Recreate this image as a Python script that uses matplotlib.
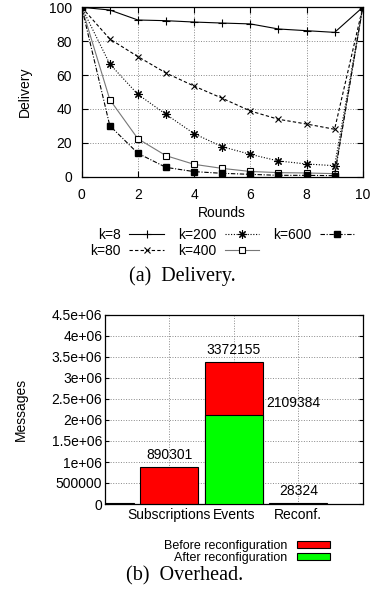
# Delivery over rounds and message overhead, two stacked panels
import numpy as np
import matplotlib
matplotlib.use('Agg')
import matplotlib.pyplot as plt
from matplotlib.patches import Patch

plt.rcParams['font.family'] = ['Liberation Sans', 'DejaVu Sans']

# %% data - delivery
rounds = [0, 1, 2, 3, 4, 5, 6, 7, 8, 9, 10]
k8 = [100, 98.4, 92.5, 92.1, 91.3, 90.7, 90.2, 87.2, 86.2, 85.2, 100]
k80 = [100, 81.3, 70.9, 61.2, 53.5, 46.3, 38.8, 33.9, 31.1, 28.0, 100]
k200 = [100, 66.5, 48.6, 36.8, 25.4, 17.7, 13.2, 9.3, 7.5, 6.5, 100]
k400 = [100, 45.5, 22.4, 12.4, 7.3, 4.9, 3.1, 2.4, 2.2, 1.8, 100]
k600 = [100, 30.1, 13.8, 5.5, 3.0, 2.0, 1.4, 0.8, 0.8, 0.6, 100]

# %% data - overhead
categories = ['', 'Subscriptions', 'Events', 'Reconf.']
before = [15000, 890301, 3372155, 28324]
after = [0, 0, 2109384, 0]
bar_labels = ['890301', '3372155', '2109384', '28324']
label_pos = [1, 2, 2.93, 3]
label_val = [890301, 3372155, 2109384, 28324]

W, H = 377, 599
fig = plt.figure(figsize=(W / 100, H / 100), dpi=100)
fs = 10

# %% top panel
ax = fig.add_axes([81.7 / W, 1 - 176.7 / H, 281 / W, 169.4 / H])
ax.plot(rounds, k8, color='black', lw=0.8, ls='-', marker='+', ms=6, mew=0.8, label='k=8')
ax.plot(rounds, k80, color='black', lw=0.8, ls=(0, (3, 2)), marker='x', ms=5, mew=0.8, label='k=80')
ax.plot(rounds, k200, color='black', lw=0.8, ls=(0, (1, 1.5)), marker=(8, 2, 0), ms=6, mew=0.8, label='k=200')
ax.plot(rounds, k400, color='#777777', lw=0.8, ls='-', marker='s', ms=5, mew=0.8,
        mfc='white', mec='black', label='k=400')
ax.plot(rounds, k600, color='black', lw=0.8, ls=(0, (4, 1.5, 1, 1.5)), marker='s', ms=5,
        mfc='black', mec='black', label='k=600')
ax.set_xlim(0, 10)
ax.set_ylim(0, 100)
ax.set_xticks(range(0, 11, 2))
ax.set_yticks(range(0, 101, 20))
ax.grid(True, color='#888888', ls=':', lw=0.7)
ax.tick_params(direction='in', length=4, width=0.8, labelsize=fs, top=True, right=True, pad=8)
ax.tick_params(axis='y', pad=7)
ax.set_xlabel('Rounds', fontsize=fs)
ax.set_ylabel('Delivery', fontsize=fs)
ax.xaxis.set_label_coords(0.5, -0.175)
ax.yaxis.set_label_coords(-0.177, 0.5)
for s in ax.spines.values():
    s.set_linewidth(0.9)

fig.legend(*ax.get_legend_handles_labels(), loc='center', ncol=3, frameon=False,
           bbox_to_anchor=(222.5 / W, 1 - 243 / H), markerfirst=False, fontsize=fs,
           handlelength=2.5, handletextpad=0.6, columnspacing=1.0, labelspacing=0.15,
           borderpad=0)

fig.text(182 / W, 1 - 276 / H, '(a)  Delivery.', ha='center', va='center',
         family='Liberation Serif', fontsize=14.5)

# %% bottom panel
bx = fig.add_axes([105 / W, 1 - 504 / H, 257.7 / W, 189 / H])
x = np.arange(len(categories))
bx.bar(x, before, width=0.9, color='#ff0000', edgecolor='black', lw=0.8, zorder=3)
bx.bar(x, after, width=0.9, color='#00ff00', edgecolor='black', lw=0.8, zorder=3)
for xp, v, t in zip(label_pos, label_val, bar_labels):
    bx.annotate(t, (xp, v), xytext=(0, 12), textcoords='offset pixels',
                ha='center', va='center', fontsize=fs, zorder=4)
bx.set_xlim(0, 4)
bx.set_ylim(0, 4500000)
bx.set_xticks(x[1:], categories[1:])
bx.set_yticks(np.arange(0, 4500001, 500000))
bx.yaxis.set_major_formatter(plt.FuncFormatter(
    lambda v, p: '0' if v == 0 else ('%g' % v if v < 1e6 else ('%ge+06' % (v / 1e6)))))
bx.grid(True, color='#888888', ls=':', lw=0.7, zorder=0)
bx.tick_params(direction='in', length=0, labelsize=fs, pad=3)
bx.tick_params(axis='y', length=3, right=True, pad=2)
bx.set_ylabel('Messages', fontsize=fs)
bx.yaxis.set_label_coords(-0.299, 0.5)
for s in bx.spines.values():
    s.set_linewidth(0.9)

handles = [Patch(facecolor='#ff0000', edgecolor='black', lw=0.8),
           Patch(facecolor='#00ff00', edgecolor='black', lw=0.8)]
fig.legend(handles, ['Before reconfiguration', 'After reconfiguration'],
           loc='center right', bbox_to_anchor=(336 / W, 1 - 552 / H), frameon=False,
           markerfirst=False, fontsize=9, handlelength=2.6, handleheight=0.55,
           handletextpad=0.8, labelspacing=0.0, borderpad=0)

fig.text(185 / W, 1 - 576 / H, '(b)  Overhead.', ha='center', va='center',
         family='Liberation Serif', fontsize=14.5)

fig.savefig('out.png', dpi=100)
